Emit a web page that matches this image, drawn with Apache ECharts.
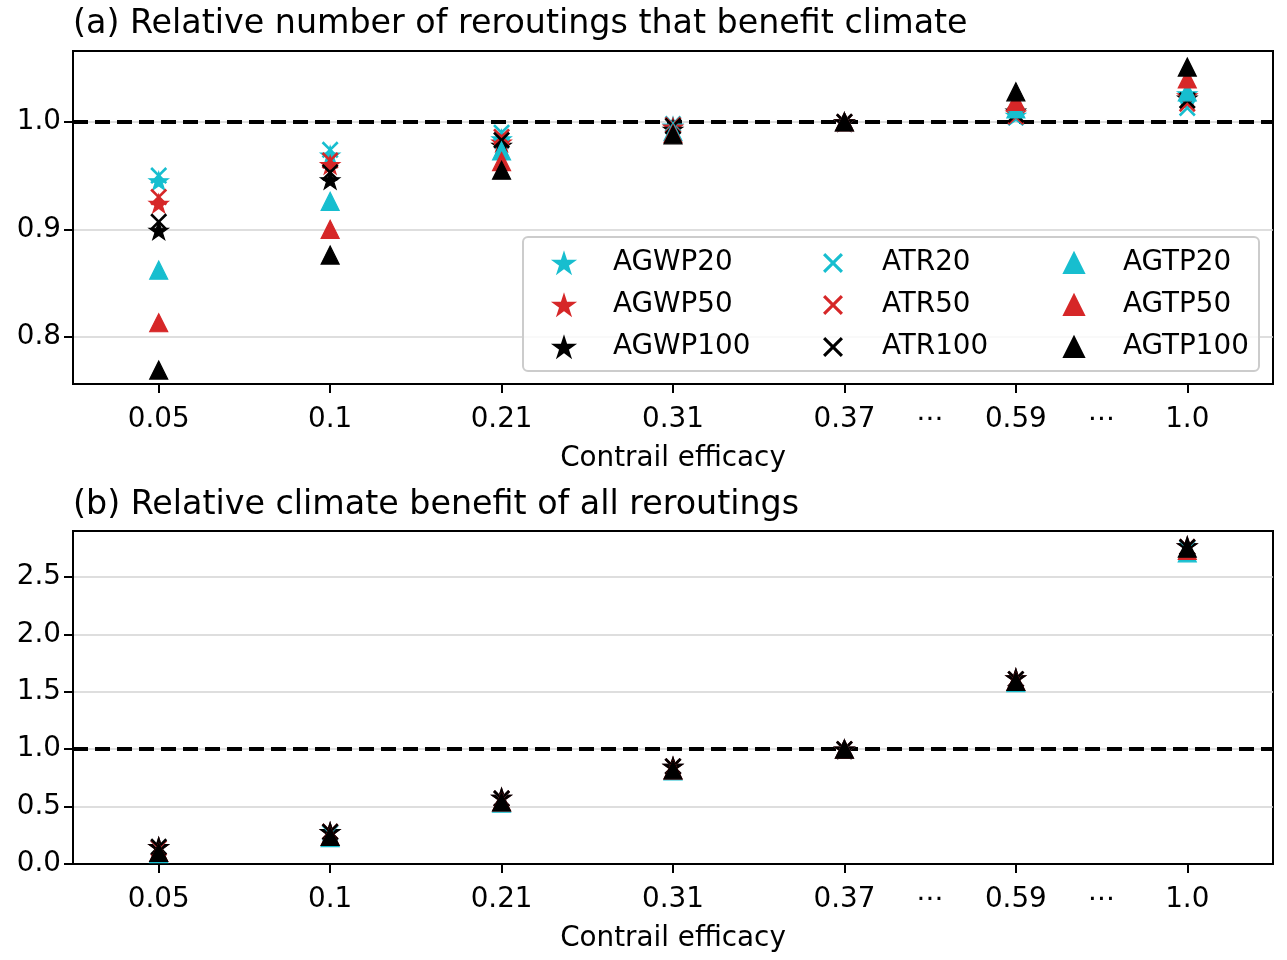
<!DOCTYPE html>
<html>
<head>
<meta charset="utf-8">
<script src="https://cdn.jsdelivr.net/npm/echarts@6/dist/echarts.min.js"></script>
<style>html,body{margin:0;padding:0;background:#fff;}#chart{width:1287px;height:960px;}</style>
</head>
<body>
<div id="chart"></div>
<script>
// ---- data ----
const categories = ['0.05', '0.1', '0.21', '0.31', '0.37', '0.59', '1.0'];
const gapLabel = '\u22EF';

// (a) Relative number of reroutings that benefit climate
const a_AGWP20  = [0.945, 0.969, 0.984, 0.996, 1.0, 1.006, 1.026];
const a_AGWP50  = [0.924, 0.960, 0.981, 0.995, 1.0, 1.008, 1.024];
const a_AGWP100 = [0.899, 0.946, 0.978, 0.993, 1.0, 1.010, 1.022];
const a_ATR20   = [0.950, 0.974, 0.990, 0.998, 1.0, 1.004, 1.013];
const a_ATR50   = [0.930, 0.964, 0.986, 0.997, 1.0, 1.005, 1.017];
const a_ATR100  = [0.907, 0.953, 0.983, 0.996, 1.0, 1.007, 1.020];
const a_AGTP20  = [0.862, 0.926, 0.973, 0.991, 1.0, 1.012, 1.028];
const a_AGTP50  = [0.813, 0.900, 0.963, 0.989, 1.0, 1.019, 1.040];
const a_AGTP100 = [0.769, 0.876, 0.955, 0.988, 1.0, 1.028, 1.051];

// (b) Relative climate benefit of all reroutings
const b_AGWP20  = [0.15, 0.28, 0.58, 0.85, 1.0, 1.62, 2.77];
const b_AGWP50  = [0.15, 0.28, 0.58, 0.85, 1.0, 1.62, 2.77];
const b_AGWP100 = [0.15, 0.28, 0.58, 0.85, 1.0, 1.62, 2.77];
const b_ATR20   = [0.14, 0.27, 0.57, 0.85, 1.0, 1.61, 2.75];
const b_ATR50   = [0.14, 0.28, 0.57, 0.85, 1.0, 1.61, 2.76];
const b_ATR100  = [0.15, 0.28, 0.57, 0.85, 1.0, 1.61, 2.76];
const b_AGTP20  = [0.09, 0.23, 0.53, 0.81, 1.0, 1.58, 2.71];
const b_AGTP50  = [0.10, 0.24, 0.54, 0.82, 1.0, 1.59, 2.73];
const b_AGTP100 = [0.10, 0.24, 0.54, 0.82, 1.0, 1.59, 2.75];

const aTicks = [0.8, 0.9, 1.0];
const bTicks = [0.0, 0.5, 1.0, 1.5, 2.0, 2.5];
const refLevel = 1.0;

// ---- styling ----
const FONT = 'DejaVu Sans';
const FS = 27.8;
const CYAN = '#17becf', RED = '#d62728', BLACK = '#000000';
const STAR = 'path://M50,0 L61.2,34.5 L97.55,34.5 L68.15,55.9 L79.4,90.45 L50,69.1 L20.6,90.45 L31.85,55.9 L2.45,34.5 L38.8,34.5 Z';
const XMARK = 'path://M0,11 L11,0 L50,39 L89,0 L100,11 L61,50 L100,89 L89,100 L50,61 L11,100 L0,89 L39,50 Z';

const seriesDefs = [
  {name: 'AGWP20',  color: CYAN,  sym: STAR, size: 19, a: a_AGWP20,  b: b_AGWP20},
  {name: 'AGWP50',  color: RED,   sym: STAR, size: 19, a: a_AGWP50,  b: b_AGWP50},
  {name: 'AGWP100', color: BLACK, sym: STAR, size: 19, a: a_AGWP100, b: b_AGWP100},
  {name: 'ATR20',   color: CYAN,  sym: XMARK, size: 17, a: a_ATR20,  b: b_ATR20},
  {name: 'ATR50',   color: RED,   sym: XMARK, size: 17, a: a_ATR50,  b: b_ATR50},
  {name: 'ATR100',  color: BLACK, sym: XMARK, size: 17, a: a_ATR100, b: b_ATR100},
  {name: 'AGTP20',  color: CYAN,  sym: 'triangle', size: 18, a: a_AGTP20,  b: b_AGTP20},
  {name: 'AGTP50',  color: RED,   sym: 'triangle', size: 18, a: a_AGTP50,  b: b_AGTP50},
  {name: 'AGTP100', color: BLACK, sym: 'triangle', size: 18, a: a_AGTP100, b: b_AGTP100}
];

const xTickPos = categories.map((c, i) => i);
const xLabelPos = [0, 1, 2, 3, 4, 4.5, 5, 5.5, 6];

function xAxisFor(gridIndex) {
  return {
    type: 'value', gridIndex: gridIndex, min: -0.5, max: 6.5,
    name: 'Contrail efficacy', nameLocation: 'middle', nameGap: 61,
    nameTextStyle: {fontFamily: FONT, fontSize: FS, color: '#000'},
    axisLine: {show: true, onZero: false, lineStyle: {color: '#000', width: 2}},
    axisTick: {show: true, length: 9, customValues: xTickPos, lineStyle: {color: '#000', width: 2}},
    axisLabel: {show: true, margin: 22, customValues: xLabelPos, fontFamily: FONT, fontSize: FS, color: '#000',
      formatter: v => Number.isInteger(v) ? categories[v] : gapLabel},
    splitLine: {show: false}
  };
}

function yAxisFor(gridIndex, min, max, ticks) {
  return {
    type: 'value', gridIndex: gridIndex, min: min, max: max,
    axisLine: {show: true, onZero: false, lineStyle: {color: '#000', width: 2}},
    axisTick: {show: true, length: 9, customValues: ticks, lineStyle: {color: '#000', width: 2}},
    axisLabel: {show: true, margin: 12, customValues: ticks, fontFamily: FONT, fontSize: FS, color: '#000',
      formatter: v => v.toFixed(1)},
    splitLine: {show: true, lineStyle: {color: '#d3d3d3', width: 1.5}}
  };
}

const series = [];
[0, 1].forEach(p => {
  seriesDefs.forEach((d, k) => {
    const vals = p === 0 ? d.a : d.b;
    const s = {
      name: d.name, type: 'scatter', xAxisIndex: p, yAxisIndex: p,
      symbol: d.sym, symbolSize: d.size, symbolKeepAspect: true,
      itemStyle: {color: d.color, opacity: 1, borderColor: d.color, borderWidth: d.sym === XMARK ? 0 : 1.2},
      data: categories.map((c, i) => [i, vals[i]]),
      z: 3 + k * 0.01,
      emphasis: {disabled: true}
    };
    if (k === 0) {
      s.markLine = {
        silent: true, symbol: 'none', animation: false, z: 2.5,
        label: {show: false},
        lineStyle: {color: '#000', type: [15, 7], width: 4},
        data: [{yAxis: refLevel}]
      };
    }
    series.push(s);
  });
});

const legendCommon = {
  orient: 'vertical', top: 249, itemWidth: 20, itemHeight: 20, itemGap: 14, padding: 0,
  selectedMode: false, z: 6,
  textStyle: {fontFamily: FONT, fontSize: FS, color: '#000', lineHeight: 28, padding: [0, 0, 0, 34]}
};

const option = {
  animation: false,
  backgroundColor: '#ffffff',
  title: [
    {text: '(a) Relative number of reroutings that benefit climate', left: 73, top: 8, padding: 0,
      textStyle: {fontFamily: FONT, fontSize: 33.3, fontWeight: 'normal', color: '#000'}},
    {text: '(b) Relative climate benefit of all reroutings', left: 73, top: 489, padding: 0,
      textStyle: {fontFamily: FONT, fontSize: 33.3, fontWeight: 'normal', color: '#000'}}
  ],
  grid: [
    {left: 73, top: 51, width: 1200, height: 333, show: true, borderColor: '#000', borderWidth: 2, backgroundColor: 'transparent'},
    {left: 73, top: 531, width: 1200, height: 333, show: true, borderColor: '#000', borderWidth: 2, backgroundColor: 'transparent'}
  ],
  xAxis: [xAxisFor(0), xAxisFor(1)],
  yAxis: [yAxisFor(0, 0.756, 1.066, aTicks), yAxisFor(1, 0, 2.9, bTicks)],
  legend: [
    Object.assign({}, legendCommon, {left: 553, data: ['AGWP20', 'AGWP50', 'AGWP100']}),
    Object.assign({}, legendCommon, {left: 823, data: ['ATR20', 'ATR50', 'ATR100']}),
    Object.assign({}, legendCommon, {left: 1063, data: ['AGTP20', 'AGTP50', 'AGTP100']})
  ],
  graphic: [{
    type: 'rect', z: 5, silent: true,
    shape: {x: 523, y: 237, width: 736, height: 134, r: 5},
    style: {fill: 'rgba(255,255,255,0.8)', stroke: '#cccccc', lineWidth: 2}
  }],
  series: series
};

const chart = echarts.init(document.getElementById('chart'), null, {renderer: 'canvas'});
chart.setOption(option);
</script>
</body>
</html>
